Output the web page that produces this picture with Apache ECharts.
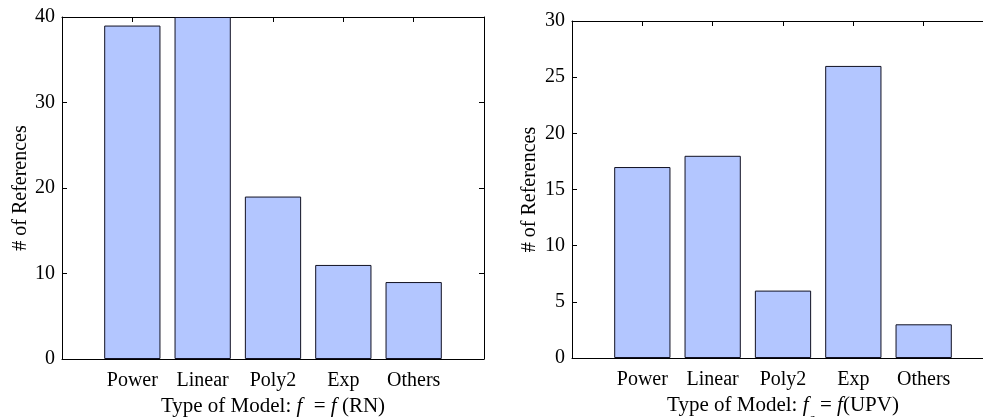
<!DOCTYPE html>
<html>
<head>
<meta charset="utf-8">
<script src="https://cdn.jsdelivr.net/npm/echarts@6/dist/echarts.min.js"></script>
<style>html,body{margin:0;padding:0;background:#fff;}#c{width:983px;height:417px;}</style>
</head>
<body>
<div id="c"></div>
<script>
var categories = ['Power', 'Linear', 'Poly2', 'Exp', 'Others'];
var valuesRN = [39, 40, 19, 11, 9];
var valuesUPV = [17, 18, 6, 26, 3];
var yTicksRN = [0, 10, 20, 30, 40];
var yTicksUPV = [0, 5, 10, 15, 20, 25, 30];

var FONT = 'Liberation Serif';
var FS = 20;
var axisCats = [''].concat(categories).concat(['']);
function padData(v) { return ['-'].concat(v).concat(['-']); }

var tick = { show: true, inside: true, length: 5, lineStyle: { color: '#000', width: 1 } };
var line = { show: true, onZero: false, lineStyle: { color: '#000', width: 1 } };

function xAxes(gi, tail) {
  return [{
    type: 'category', gridIndex: gi, data: axisCats, boundaryGap: false, position: 'bottom',
    axisLine: line, axisTick: tick, splitLine: { show: false },
    axisLabel: { color: '#000', fontFamily: FONT, fontSize: FS, margin: 12, interval: 0 },
    name: '{n|Type of Model: }{i|f}{s|c}{n| = }{i|f}{n|' + tail + '}',
    nameLocation: 'middle', nameGap: 37,
    nameTextStyle: {
      verticalAlign: 'top',
      rich: {
        n: { fontFamily: FONT, fontSize: 21, color: '#000', verticalAlign: 'top' },
        i: { fontFamily: FONT, fontSize: 21, fontStyle: 'italic', color: '#000', verticalAlign: 'top' },
        s: { fontFamily: FONT, fontSize: 14, fontStyle: 'italic', color: '#000', verticalAlign: 'top', padding: [17, 0, 0, 0] }
      }
    }
  }, {
    type: 'category', gridIndex: gi, data: axisCats, boundaryGap: false, position: 'top',
    axisLine: line, axisTick: tick, axisLabel: { show: false }, splitLine: { show: false }
  }];
}
function yAxes(gi, max, interval, gap) {
  return [{
    type: 'value', gridIndex: gi, min: 0, max: max, interval: interval, position: 'left',
    axisLine: line, axisTick: tick, splitLine: { show: false },
    axisLabel: { color: '#000', fontFamily: FONT, fontSize: FS, margin: 7 },
    name: '# of References', nameLocation: 'middle', nameGap: gap, nameRotate: 90,
    nameTextStyle: { color: '#000', fontFamily: FONT, fontSize: FS }
  }, {
    type: 'value', gridIndex: gi, min: 0, max: max, interval: interval, position: 'right',
    axisLine: line, axisTick: tick, axisLabel: { show: false }, splitLine: { show: false }
  }];
}

var barStyle = { color: '#B3C6FF', borderColor: '#111122', borderWidth: 1 };

var option = {
  animation: false,
  backgroundColor: '#fff',
  grid: [
    { left: 62, top: 17, width: 422, height: 342, outerBoundsMode: 'none', containLabel: false },
    { left: 572, top: 21, width: 422, height: 337, outerBoundsMode: 'none', containLabel: false }
  ],
  xAxis: xAxes(0, ' (RN)').concat(xAxes(1, '(UPV)')),
  yAxis: yAxes(0, yTicksRN[yTicksRN.length - 1], yTicksRN[1] - yTicksRN[0], 31)
    .concat(yAxes(1, yTicksUPV[yTicksUPV.length - 1], yTicksUPV[1] - yTicksUPV[0], 32)),
  series: [
    { type: 'bar', xAxisIndex: 0, yAxisIndex: 0, data: padData(valuesRN), barWidth: '80%', itemStyle: barStyle },
    { type: 'bar', xAxisIndex: 2, yAxisIndex: 2, data: padData(valuesUPV), barWidth: '80%', itemStyle: barStyle }
  ]
};
var chart = echarts.init(document.getElementById('c'), null, { renderer: 'canvas' });
chart.setOption(option);
</script>
</body>
</html>
